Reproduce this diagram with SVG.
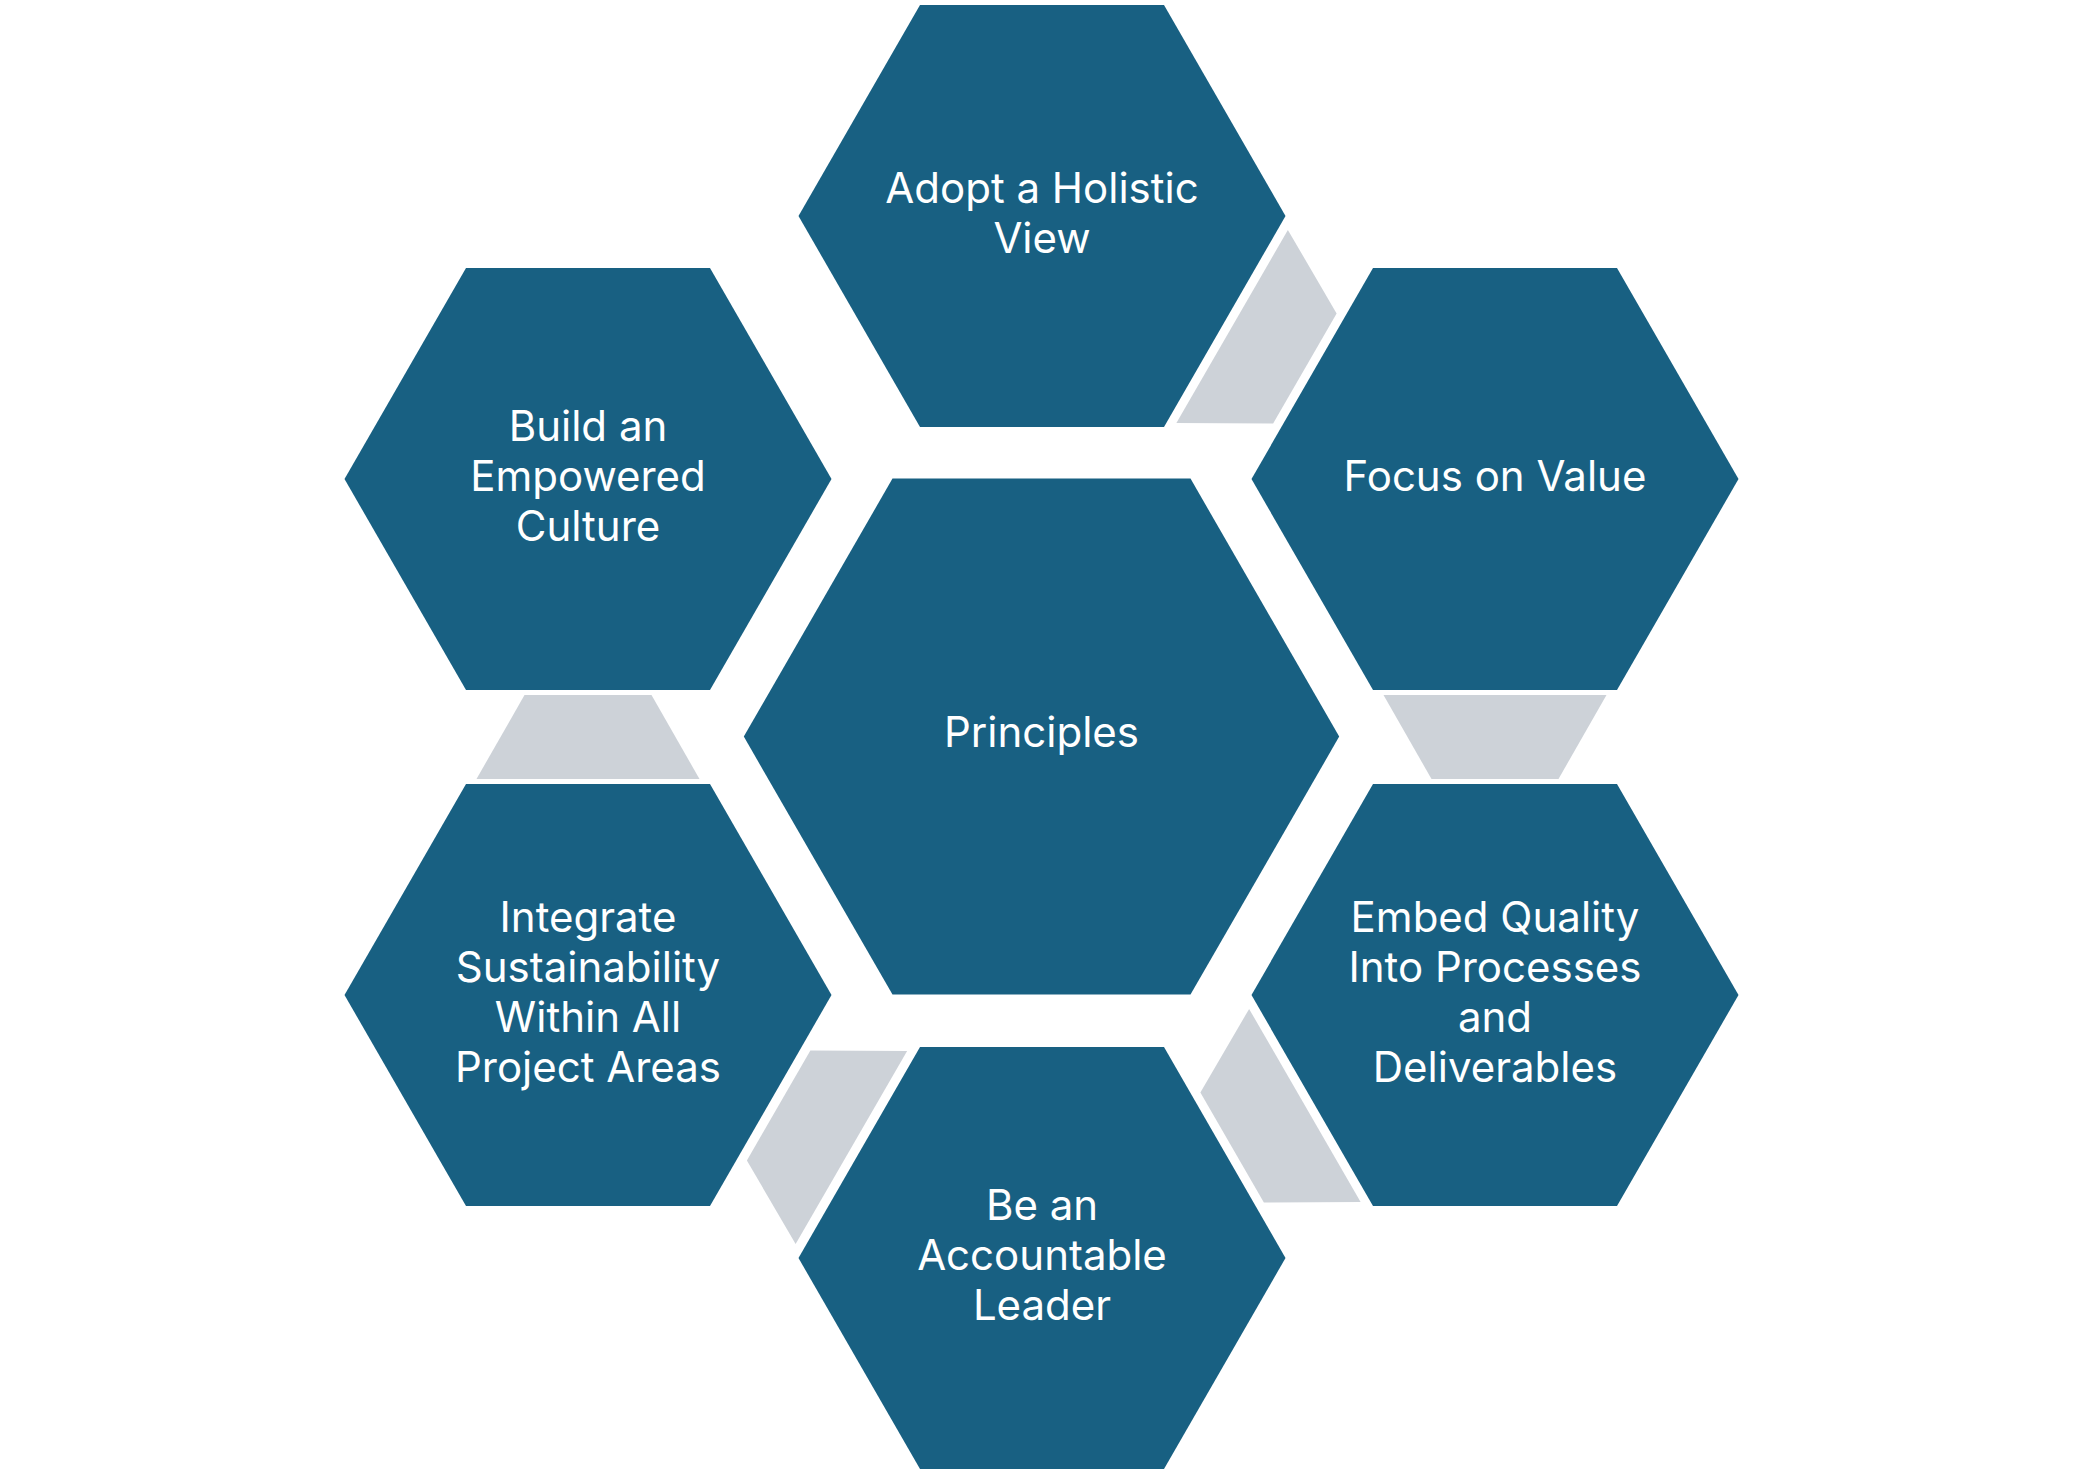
<svg xmlns="http://www.w3.org/2000/svg" xmlns:xlink="http://www.w3.org/1999/xlink" width="2082" height="1474" viewBox="0 0 2082 1474">
  <style>
    .hex { fill: #186082; }
    .conn { fill: #CDD2D8; }
    .lbl { font-family: Inter, "Liberation Sans", sans-serif; font-size: 42px; fill: #FFFFFF; text-anchor: middle; }
  </style>
  <defs>
    <polygon id="hexOuter" points="-243.5,0 -122,-211 122,-211 243.5,0 122,211 -122,211"/>
    <polygon id="trap" points="-111.5,-42 111.5,-42 63.5,42 -63.5,42"/>
  </defs>
  <rect x="0" y="0" width="2082" height="1474" fill="#FFFFFF"/>

  <g id="connectors">
    <use href="#trap" class="conn" transform="translate(1268.5,347.5) rotate(-60)"/>
    <use href="#trap" class="conn" transform="translate(1495,737)"/>
    <use href="#trap" class="conn" transform="translate(1268.5,1126.5) rotate(60)"/>
    <use href="#trap" class="conn" transform="translate(815,1126.5) rotate(120)"/>
    <use href="#trap" class="conn" transform="translate(588,737) rotate(180)"/>
  </g>

  <g id="node-principles">
    <polygon class="hex" points="743.8,736.6 892.5,478.6 1190.5,478.6 1339.2,736.6 1190.5,994.6 892.5,994.6"/>
    <text class="lbl" x="1041.5" y="747">Principles</text>
  </g>

  <g id="node-holistic">
    <use href="#hexOuter" class="hex" transform="translate(1042,216)"/>
    <text class="lbl" x="1042" y="203">Adopt a Holistic</text>
    <text class="lbl" x="1042" y="253">View</text>
  </g>

  <g id="node-value">
    <use href="#hexOuter" class="hex" transform="translate(1495,479)"/>
    <text class="lbl" x="1495" y="491">Focus on Value</text>
  </g>

  <g id="node-quality">
    <use href="#hexOuter" class="hex" transform="translate(1495,995)"/>
    <text class="lbl" x="1495" y="932">Embed Quality</text>
    <text class="lbl" x="1495" y="982">Into Processes</text>
    <text class="lbl" x="1495" y="1032">and</text>
    <text class="lbl" x="1495" y="1082">Deliverables</text>
  </g>

  <g id="node-leader">
    <use href="#hexOuter" class="hex" transform="translate(1042,1258)"/>
    <text class="lbl" x="1042" y="1220">Be an</text>
    <text class="lbl" x="1042" y="1270">Accountable</text>
    <text class="lbl" x="1042" y="1320">Leader</text>
  </g>

  <g id="node-sustainability">
    <use href="#hexOuter" class="hex" transform="translate(588,995)"/>
    <text class="lbl" x="588" y="932">Integrate</text>
    <text class="lbl" x="588" y="982">Sustainability</text>
    <text class="lbl" x="588" y="1032">Within All</text>
    <text class="lbl" x="588" y="1082">Project Areas</text>
  </g>

  <g id="node-culture">
    <use href="#hexOuter" class="hex" transform="translate(588,479)"/>
    <text class="lbl" x="588" y="441">Build an</text>
    <text class="lbl" x="588" y="491">Empowered</text>
    <text class="lbl" x="588" y="541">Culture</text>
  </g>
</svg>
